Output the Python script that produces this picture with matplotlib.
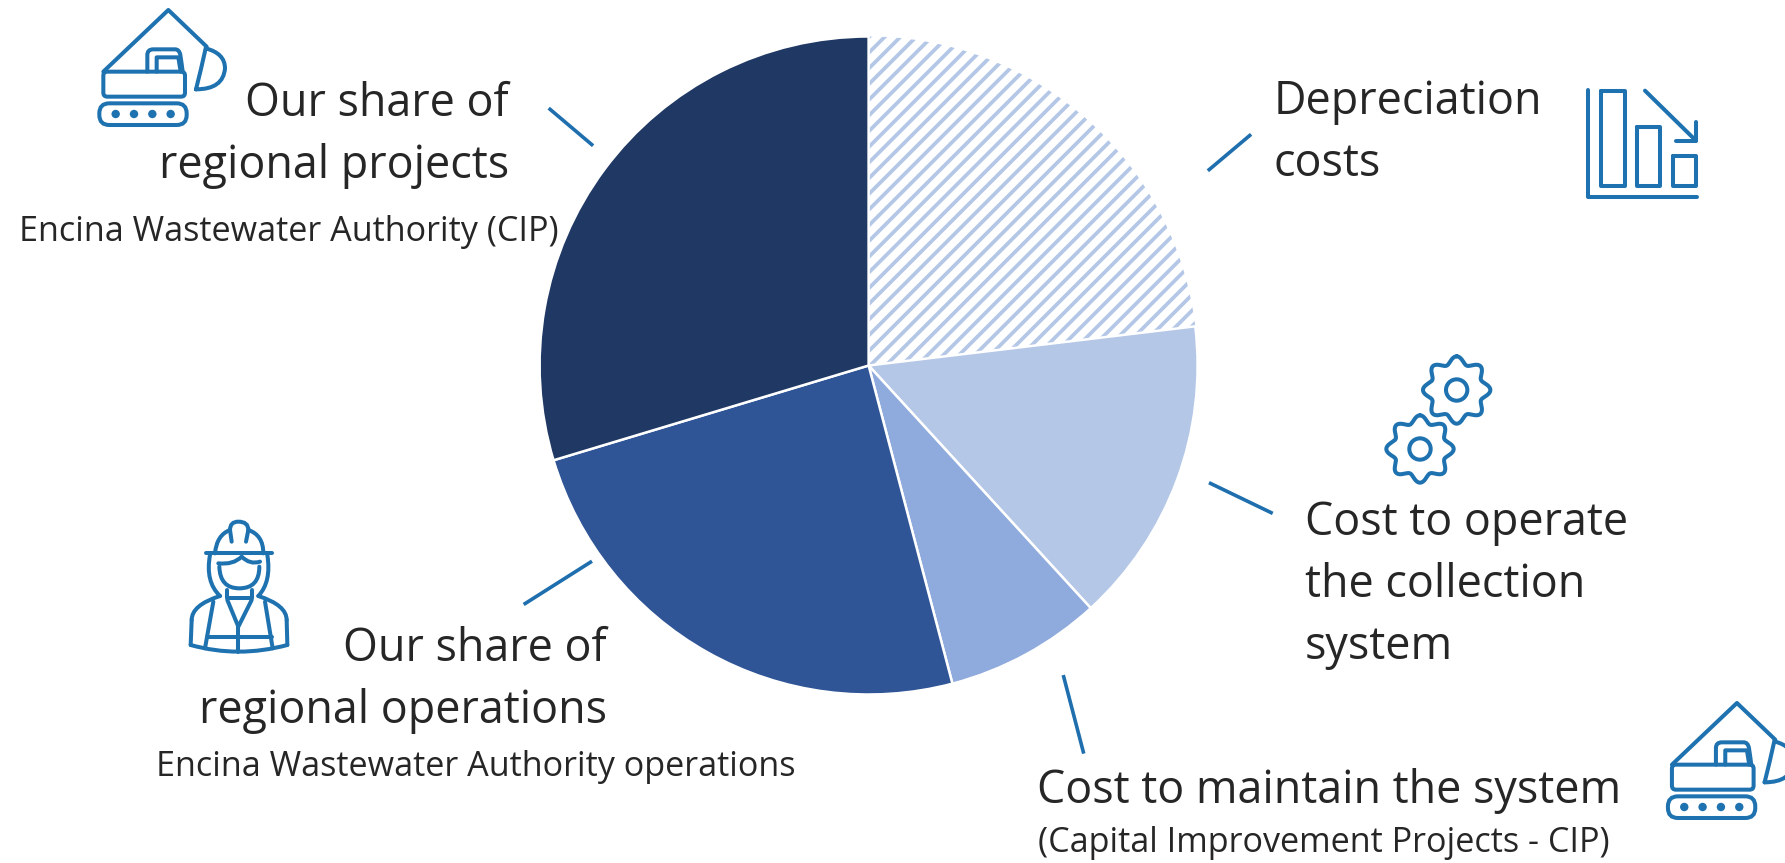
import numpy as np
import matplotlib
matplotlib.use("Agg")
import matplotlib.pyplot as plt
from matplotlib.path import Path
from matplotlib.patches import PathPatch, Circle, FancyBboxPatch

# ---- data (share of the rate, %, clockwise from 12 o'clock)
categories = ["Depreciation costs", "Cost to operate the collection system",
              "Cost to maintain the system", "Our share of regional operations",
              "Our share of regional projects"]
shares = [23.1, 15.1, 7.7, 24.45, 29.65]
colors = ["#FFFFFF", "#B4C7E7", "#8FAADC", "#2F5597", "#1F3864"]

STRIPE = "#B4C7E7"
ICON = "#1F72B0"
LEAD = "#1F6FAE"
TXT = "#262626"
FONT = ["Open Sans", "DejaVu Sans"]
BIG, SMALL = 32.3, 24.6
W, H = 1785, 863
S = W / 1568  # scale of the shrunk reference view

fig = plt.figure(figsize=(W / 100, H / 100), dpi=100)
ax = fig.add_axes([0, 0, 1, 1])

cx, cy, R = 868.6, 365.5, 329
wedges, _ = ax.pie(shares, colors=colors, startangle=-90, counterclock=True,
                   center=(cx, cy), radius=R, frame=False,
                   wedgeprops=dict(edgecolor="none", linewidth=0))
ax.set_xlim(0, W)
ax.set_ylim(H, 0)
ax.set_aspect("equal")
ax.axis("off")

# hatch of first slice: diagonal stripes clipped to the wedge
period = 15.7
for k in np.arange(-60, 60):
    x0 = cx + 1.5 + k * period
    ln, = ax.plot([x0 - 400, x0 + 400], [cy + 400, cy - 400], color=STRIPE, lw=2.7,
                  solid_capstyle="butt", zorder=1.1)
    ln.set_clip_path(wedges[0])

# white separators between the solid slices
for w in wedges[1:]:
    w.set_edgecolor("white")
    w.set_linewidth(1.8)
    w.set_zorder(1.2)


def sx(v):
    return v * S


# ---- leader lines (shrunk view coordinates)
leaders = [((482, 95), (521, 128)), ((1099, 118), (1061, 150)), ((1062, 424), (1118, 451)),
           ((934, 593), (952, 662)), ((520, 493), (460, 531))]
for a, b in leaders:
    ax.plot([sx(a[0]), sx(b[0])], [sx(a[1]), sx(b[1])], color=LEAD, lw=2.6,
            solid_capstyle="butt", zorder=3)

# ---- text: (string, x, baseline y, ha, size)
labels = [
    ("Our share of", 447, 102, "right", BIG),
    ("regional projects", 447, 156, "right", BIG),
    ("Encina Wastewater Authority (CIP)", 491, 212, "right", SMALL),
    ("Depreciation", 1119, 100, "left", BIG),
    ("costs", 1119, 155, "left", BIG),
    ("Cost to operate", 1146, 470, "left", BIG),
    ("the collection", 1146, 524, "left", BIG),
    ("system", 1146, 579, "left", BIG),
    ("Our share of", 533, 581, "right", BIG),
    ("regional operations", 533, 635, "right", BIG),
    ("Encina Wastewater Authority operations", 699, 682, "right", SMALL),
    ("Cost to maintain the system", 911, 705, "left", BIG),
    ("(Capital Improvement Projects - CIP)", 912, 748, "left", SMALL),
]
for s, x, y, ha, fs in labels:
    ax.text(sx(x), sx(y), s, ha=ha, va="baseline", fontsize=fs, color=TXT, family=FONT, zorder=4)

LW = 2.9


def poly(pts, ox, oy, closed=False, lw=LW):
    p = np.array(pts, float) / 3 + [ox, oy]
    if closed:
        p = np.vstack([p, p[:1]])
    ax.plot(p[:, 0], p[:, 1], color=ICON, lw=lw, solid_joinstyle="round", solid_capstyle="round",
            zorder=5, clip_on=True)


def curve(pts, ox, oy, lw=LW):
    """quadratic-bezier chain: start, ctrl, end, ctrl, end ..."""
    p = np.array(pts, float) / 3 + [ox, oy]
    codes = [Path.MOVETO] + [Path.CURVE3] * (len(p) - 1)
    ax.add_patch(PathPatch(Path(p, codes), fc="none", ec=ICON, lw=lw, capstyle="round", zorder=5))


def rbox(x0, y0, x1, y1, r, ox, oy, lw=LW):
    ax.add_patch(FancyBboxPatch((ox + x0 / 3 + r, oy + y0 / 3 + r), (x1 - x0) / 3 - 2 * r, (y1 - y0) / 3 - 2 * r,
                                boxstyle=f"round,pad={r},rounding_size={r}", fc="none", ec=ICON, lw=lw, zorder=5))


def excavator(ox, oy):
    poly([(130, 215), (325, 30), (440, 140)], ox, oy)
    rbox(130, 215, 375, 290, 4, ox, oy)
    curve([(262, 215), (262, 185), (262, 165), (262, 148), (280, 148), (315, 148), (345, 148),
           (358, 148), (361, 165), (365, 190), (368, 215)], ox, oy)
    poly([(290, 215), (290, 172), (355, 172), (362, 215)], ox, oy)
    curve([(408, 268), (424, 205), (437, 145), (495, 160), (495, 205), (490, 268), (408, 268)], ox, oy)
    rbox(118, 310, 380, 375, 10, ox, oy)
    for xd in (167, 222, 277, 332):
        ax.add_patch(Circle((ox + xd / 3, oy + 342 / 3), 4.2, fc=ICON, ec="none", zorder=5))


excavator(60, 0)
excavator(60 + 1568.6, 693)

# declining bars icon
ox, oy = 1560, 70
poly([(85, 60), (85, 382), (410, 382)], ox, oy)
for x0, y0, x1, y1 in [(122, 62, 195, 348), (230, 170, 300, 348), (338, 258, 408, 348)]:
    poly([(x0, y0), (x1, y0), (x1, y1), (x0, y1)], ox, oy, closed=True)
poly([(255, 62), (408, 212)], ox, oy)
poly([(408, 155), (408, 212), (348, 212)], ox, oy)


# gears icon
def gear(gx, gy):
    ox, oy = 1360, 340
    th = np.linspace(0, 2 * np.pi, 500)
    r = 90 + 11 * np.cos(8 * th)
    poly(np.c_[gx + r * np.sin(th), gy - r * np.cos(th)], ox, oy)
    ax.add_patch(Circle((ox + gx / 3, oy + gy / 3), 32 / 3, fc="none", ec=ICON, lw=LW, zorder=5))


gear(290, 150)
gear(180, 327)

# worker icon
ox, oy = 170, 510
poly([(108, 130), (305, 130)], ox, oy)
curve([(135, 130), (140, 75), (180, 60), (180, 35), (205, 35), (235, 35), (235, 60), (280, 75), (280, 130)], ox, oy)
poly([(180, 60), (185, 95)], ox, oy)
poly([(235, 60), (228, 95)], ox, oy)
curve([(145, 160), (190, 165), (215, 140), (240, 165), (270, 155)], ox, oy)
curve([(148, 170), (150, 235), (208, 235), (268, 235), (268, 170)], ox, oy)
curve([(120, 135), (105, 215), (150, 258)], ox, oy)
curve([(292, 135), (305, 215), (265, 258)], ox, oy)
poly([(172, 240), (172, 265), (245, 265), (245, 240)], ox, oy)
curve([(150, 258), (65, 285), (65, 330)], ox, oy)
curve([(265, 258), (350, 285), (350, 330)], ox, oy)
poly([(65, 330), (62, 405)], ox, oy)
poly([(350, 330), (352, 405)], ox, oy)
curve([(62, 405), (205, 445), (352, 405)], ox, oy)
poly([(130, 275), (105, 415)], ox, oy)
poly([(285, 275), (308, 415)], ox, oy)
poly([(172, 270), (205, 350), (245, 270)], ox, oy)
poly([(205, 350), (205, 425)], ox, oy)
poly([(110, 382), (305, 382)], ox, oy)

fig.savefig("out.png", dpi=100, facecolor="white")
